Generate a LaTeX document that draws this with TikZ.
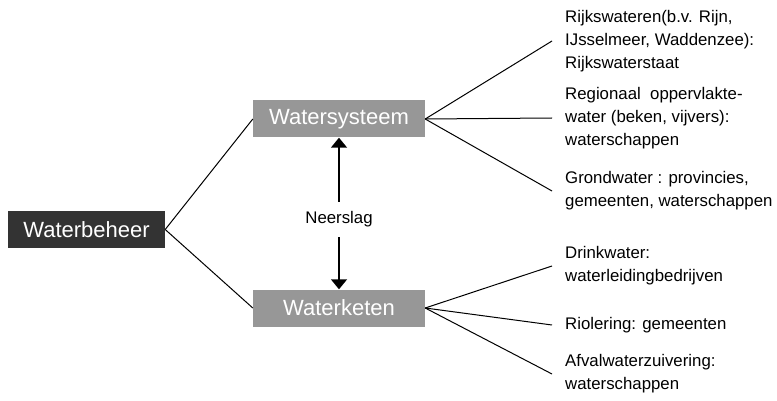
\documentclass[tikz,border=0pt]{standalone}
\usepackage{fontspec}
\setmainfont{Liberation Sans}
\usetikzlibrary{arrows.meta}
\definecolor{darkbox}{HTML}{333333}
\definecolor{greybox}{HTML}{979797}

\begin{document}
\begin{tikzpicture}[x=1pt,y=1pt]
\tikzstyle{box}=[fill=greybox, text=white, minimum width=172pt, minimum height=37pt, inner sep=0pt, font=\fontsize{22}{26}\selectfont]
\tikzstyle{side}=[anchor=west, align=left, inner xsep=13pt, inner ysep=0pt, font=\fontsize{16.8}{23}\selectfont]
\tikzstyle{fan}=[black, line width=1pt]
\tikzstyle{arr}=[black, line width=1.4pt, -{Triangle[width=16pt,length=10pt]}]
\useasboundingbox (0,0) rectangle (777,-401);
% main boxes
\node [box, fill=darkbox, minimum width=157pt] (wb) at (86.5,-229.5) {Waterbeheer};
\node [box] (sys) at (339,-119) {Watersysteem};
\node [box] (ket) at (339,-308) {Waterketen};
\node [font=\fontsize{16.8}{20}\selectfont, inner xsep=0pt, inner ysep=9.5pt] (neer) at (339,-219.5) {Neerslag};
% texts on the right
\node [side] (rijk) at (552,-41) {Rijkswateren(b.v. Rijn,\\IJsselmeer, Waddenzee):\\Rijkswaterstaat};
\node [side] (regio) at (552,-118) {Regionaal\ \ oppervlakte-\\water (beken, vijvers):\\waterschappen};
\node [side] (grond) at (552,-191) {Grondwater : provincies,\\gemeenten, waterschappen};
\node [side] (drink) at (552,-266) {Drinkwater:\\waterleidingbedrijven};
\node [side] (riool) at (552,-325) {Riolering: gemeenten};
\node [side] (afval) at (552,-374) {Afvalwaterzuivering:\\waterschappen};
% connectors
\draw [fan] (wb.east) -- (sys.west);
\draw [fan] (wb.east) -- (ket.west);
\draw [fan] (sys.east) -- (rijk.west);
\draw [fan] (sys.east) -- (regio.west);
\draw [fan] (sys.east) -- (grond.west);
\draw [fan] (ket.east) -- (drink.west);
\draw [fan] (ket.east) -- (riool.west);
\draw [fan] (ket.east) -- (afval.west);
\draw [arr] (neer) -- (sys);
\draw [arr] (neer) -- (ket);
\end{tikzpicture}
\end{document}
